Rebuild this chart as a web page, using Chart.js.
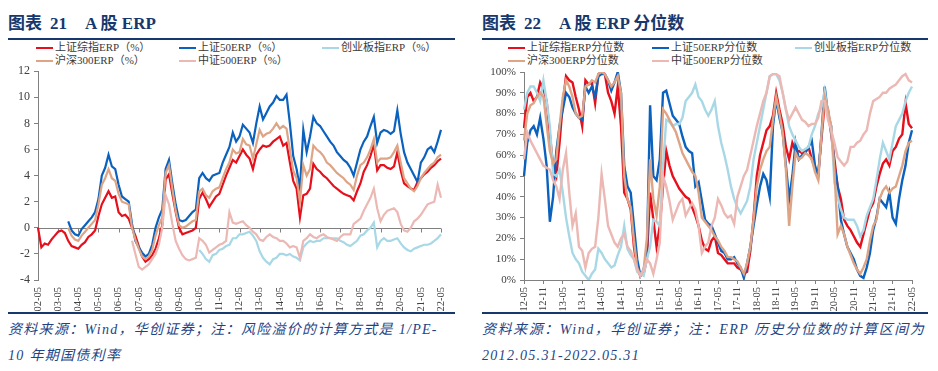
<!DOCTYPE html>
<html>
<head>
<meta charset="utf-8">
<script src="https://cdn.jsdelivr.net/npm/chart.js@4/dist/chart.umd.min.js"></script>
<style>
    body { margin: 0; width: 938px; height: 371px; background: #fff; position: relative; overflow: hidden;
           font-family: 'Liberation Serif', 'Noto Sans CJK SC', serif; }
    .title { position: absolute; top: 9px; font-size: 17px; font-weight: bold; color: #17386e; white-space: nowrap; }
    .title .gap { display: inline-block; width: 18px; }
    .title .sp { display: inline-block; width: 8px; }
    .rule { position: absolute; height: 2px; background: #17386e; }
    .item { position: absolute; white-space: nowrap; font-size: 11px; line-height: 13px; color: #3a3a3a; }
    .item i { display: inline-block; width: 17px; height: 2px; vertical-align: middle; margin-right: 2px; }
    .note { position: absolute; font-style: italic; font-size: 14px; line-height: 18px; color: #1e4486;
            white-space: nowrap; letter-spacing: 1.3px; }
    canvas { position: absolute; }
</style>
</head>
<body>
<div class="title" style="left:8px">图表<span class="sp"></span>21<span class="gap"></span>A 股 ERP</div>
<div class="title" style="left:482px">图表<span class="sp"></span>22<span class="gap"></span>A 股 ERP 分位数</div>
<div class="rule" style="left:8px;top:38px;width:447px"></div>
<div class="rule" style="left:482px;top:38px;width:446px"></div>
<div id="legend1"></div>
<div id="legend2"></div>
<canvas id="erpChart" width="470" height="256" style="left:0;top:60px"></canvas>
<canvas id="pctChart" width="468" height="256" style="left:470px;top:60px"></canvas>
<div class="rule" style="left:8px;top:312px;width:447px"></div>
<div class="rule" style="left:482px;top:312px;width:446px"></div>
<div class="note" style="left:8px;top:321px">资料来源：Wind，华创证券；注：风险溢价的计算方式是 1/PE-</div>
<div class="note" style="left:8px;top:347px">10 年期国债利率</div>
<div class="note" style="left:482px;top:321px;letter-spacing:1.55px">资料来源：Wind，华创证券；注：ERP 历史分位数的计算区间为</div>
<div class="note" style="left:482px;top:347px">2012.05.31-2022.05.31</div>

<script>
// ---- chart 21: ERP levels, every two months from 02-05 to 22-05 ----
const erpTicks = ['02-05', '03-05', '04-05', '05-05', '06-05', '07-05', '08-05', '09-05', '10-05', '11-05',
    '12-05', '13-05', '14-05', '15-05', '16-05', '17-05', '18-05', '19-05', '20-05', '21-05', '22-05'];

const erpSzzs = [
    0, -1.5, -1.2, -1.3, -0.9, -0.6,   -0.3, -0.2, -0.4, -1.0, -1.4, -1.5,
    -1.6, -1.3, -1.1, -0.7, -0.5, -0.2,   0.9, 1.8, 2.3, 2.8, 2.3, 2.4,
    1.2, 0.9, 1.0, 0.7, 0.0, -0.6,   -1.4, -2.2, -2.6, -2.4, -2.1, -1.6,
    -0.8, 0.2, 3.7, 4.1, 2.6, 1.2,   0.0, -0.5, -0.4, -0.3, -0.2, 0.0,
    2.2, 2.7, 2.2, 1.6, 2.0, 2.4,   2.6, 3.3, 4.0, 4.6, 5.2, 5.0,
    5.5, 6.0, 5.6, 5.3, 4.5, 5.6,   6.0, 6.3, 6.2, 6.3, 6.6, 6.8,
    7.0, 6.3, 6.5, 5.0, 3.6, 3.0,   0.8, 2.5, 2.6, 3.0, 4.9, 4.5,
    4.3, 4.0, 3.8, 3.5, 3.2, 3.0,   2.8, 2.6, 2.5, 2.4, 2.1, 2.8,
    3.4, 4.3, 4.8, 5.5, 6.4, 4.4,   4.8, 4.8, 4.6, 4.5, 4.7, 5.8,
    4.4, 3.4, 3.2, 3.0, 2.9, 3.5,   3.8, 4.1, 4.3, 4.6, 4.8, 5.1,
    5.3
];
const erpSz50 = [
    null, null, null, null, null, null,   null, null, null, 0.5, -0.2, -0.5,
    -0.6, -0.1, 0.2, 0.5, 0.8, 1.2,   2.2, 4.0, 4.6, 5.6, 4.7, 4.5,
    3.3, 2.4, 2.2, 2.0, 0.3, -1.0,   -1.5, -1.9, -2.2, -2.0, -1.3, 0.0,
    0.8, 1.4, 4.5, 5.2, 3.4, 1.8,   0.6, 0.5, 0.6, 0.9, 1.2, 1.4,
    3.8, 4.2, 3.8, 3.6, 4.0, 4.1,   4.2, 5.0, 5.6, 6.2, 7.3, 6.6,
    7.0, 7.9, 7.6, 7.3, 6.5, 8.0,   9.3, 8.3, 8.8, 9.3, 9.6, 10.1,
    9.8, 9.8, 10.2, 8.0, 5.5, 4.5,   3.0, 7.5, 5.8, 7.0, 8.5, 8.0,
    7.8, 7.4, 7.0, 6.6, 6.3, 5.8,   5.5, 5.2, 5.0, 4.6, 4.0, 5.0,
    6.0, 6.6, 7.0, 7.8, 8.5, 6.5,   7.3, 7.5, 7.4, 7.2, 7.4, 9.0,
    7.2, 5.8, 5.0, 4.5, 4.0, 3.5,   5.0, 5.4, 6.0, 6.2, 5.8, 6.6,
    7.5
];
const erpCyb = [
    null, null, null, null, null, null,   null, null, null, null, null, null,
    null, null, null, null, null, null,   null, null, null, null, null, null,
    null, null, null, null, null, null,   null, null, null, null, null, null,
    null, null, null, null, null, null,   null, null, null, null, null, null,
    -1.7, -2.0, -2.4, -2.6, -2.1, -2.0,   -1.7, -1.6, -1.4, -1.3, -0.8, -0.8,
    -0.5, -0.5, -0.4, -0.3, -0.6, -1.0,   -1.8, -2.3, -2.6, -2.8, -2.4, -2.3,
    -2.0, -2.0, -2.1, -2.0, -2.2, -2.3,   -2.5, -1.5, -1.2, -1.0, -1.1, -1.0,
    -1.0, -0.8, -0.8, -0.8, -0.8, -0.8,   -1.0, -1.1, -1.3, -1.4, -1.2, -1.0,
    -0.6, -0.5, -0.2, 0.0, 0.4, -1.5,   -1.0, -0.8, -1.0, -1.0, -0.9, -0.8,
    -1.2, -1.5, -1.7, -1.8, -1.6, -1.5,   -1.4, -1.3, -1.3, -1.2, -1.0, -0.8,
    -0.5
];
const erpHs300 = [
    null, null, null, null, null, null,   null, null, null, 0.0, -0.6, -0.9,
    -1.0, -0.6, -0.3, 0.0, 0.3, 0.6,   1.8, 3.3, 3.8, 4.5, 3.8, 3.6,
    2.6, 2.0, 1.9, 1.8, 0.0, -0.9,   -1.6, -2.2, -2.4, -2.2, -1.7, -0.6,
    0.2, 0.8, 4.2, 4.8, 3.0, 1.3,   0.2, 0.0, 0.1, 0.3, 0.5, 0.6,
    2.8, 3.0, 2.5, 2.3, 2.8, 3.0,   3.1, 3.8, 4.5, 5.0, 6.0, 5.7,
    5.8, 6.8, 6.4, 6.3, 5.3, 6.4,   7.5, 7.0, 7.2, 7.3, 7.6, 8.0,
    7.6, 7.8, 7.6, 6.0, 4.4, 3.8,   2.0, 4.8, 4.0, 4.5, 6.3, 6.0,
    5.8, 5.5, 5.0, 4.8, 4.5, 4.2,   4.0, 3.8, 3.5, 3.3, 2.9, 4.0,
    4.8, 5.0, 5.4, 6.0, 6.8, 5.0,   5.3, 5.3, 5.3, 5.4, 5.8, 6.3,
    5.0, 3.8, 3.4, 3.0, 2.8, 3.2,   3.8, 4.2, 4.5, 4.8, 5.0, 5.4,
    5.6
];
const erpZz500 = [
    null, null, null, null, null, null,   null, null, null, null, null, null,
    null, null, null, null, null, null,   null, null, null, null, null, null,
    null, null, null, null, -1.0, -2.0,   -3.0, -3.2, -3.0, -2.8, -2.4, -2.0,
    -1.3, 0.0, 2.5, 1.8, 0.3, -1.0,   -1.6, -2.1, -2.4, -2.5, -2.4, -2.3,
    -0.8, -1.0, -1.3, -1.9, -1.7, -1.5,   -1.3, -1.2, -1.0, 1.2, 0.4, 0.3,
    0.4, 0.5, 0.2, 0.0, -0.3, -0.5,   -0.9, -1.0, -0.7, -0.5, -0.7, -0.8,
    -1.0, -1.0, -1.2, -1.5, -1.4, -1.5,   -2.3, -1.0, -0.8, -0.5, -0.7, -0.8,
    -0.6, -0.5, -0.7, -0.8, -0.9, -1.0,   -0.7, -0.5, -0.5, -0.5, 0.3, 0.5,
    0.7, 1.3, 1.8, 2.3, 3.0, 1.5,   0.5, 1.0, 1.3, 1.4, 1.5, 1.2,
    0.3, -0.2, -0.3, 0.0, 0.5, 0.7,   1.0, 1.4, 1.8, 1.9, 2.0, 3.3,
    2.3
];

// ---- chart 22: ERP percentiles, monthly from 12-05 to 22-05 ----
const pctTicks = ['12-05', '12-11', '13-05', '13-11', '14-05', '14-11', '15-05', '15-11', '16-05', '16-11',
    '17-05', '17-11', '18-05', '18-11', '19-05', '19-11', '20-05', '20-11', '21-05', '21-11', '22-05'];

const pctSzzs = [
    73, 88, 90, 86, 88, 95, 92, 86, 70, 55, 50, 66,
    85, 98, 96, 95, 88, 82, 74, 96, 94, 95, 85, 99,
    100, 99, 90, 86, 80, 93, 74, 42, 39, 34, 16, 5,
    2, 3, 10, 42, 29, 16, 26, 45, 62, 55, 50, 47,
    44, 42, 40, 39, 35, 31, 26, 19, 15, 14, 19, 21,
    13, 12, 10, 8, 8, 8, 6, 5, 3, 4, 14, 30,
    50, 60, 66, 72, 74, 79, 90, 82, 75, 64, 58, 66,
    62, 62, 61, 62, 64, 58, 54, 51, 68, 85, 82, 70,
    58, 45, 39, 29, 26, 24, 21, 18, 16, 22, 28, 34,
    37, 45, 51, 56, 58, 55, 62, 64, 68, 70, 85, 75, 73
];
const pctSz50 = [
    50, 66, 72, 74, 70, 78, 68, 55, 28, 40, 62, 74,
    82, 90, 88, 83, 80, 78, 77, 93, 90, 93, 88, 98,
    99, 99, 96, 91, 95, 100, 90, 55, 45, 42, 26, 10,
    2, 5, 12, 84, 50, 48, 58, 90, 91, 85, 79, 77,
    75, 69, 64, 62, 61, 45, 47, 38, 29, 27, 26, 22,
    18, 14, 13, 10, 10, 11, 8, 6, 1, 8, 16, 26,
    36, 45, 51, 48, 40, 74, 87, 78, 71, 55, 39, 50,
    66, 58, 60, 61, 64, 67, 55, 50, 70, 93, 80, 74,
    55, 45, 29, 22, 16, 13, 10, 5, 2, 1, 6, 13,
    24, 30, 39, 37, 35, 42, 30, 27, 39, 48, 55, 66, 72
];
const pctCyb = [
    82, 90, 93, 93, 90, 86, 96, 86, 74, 51, 50, 53,
    42, 30, 21, 13, 10, 8, 4, 2, 0, 3, 5, 15,
    13, 10, 8, 6, 7, 12, 16, 26, 15, 12, 10, 4,
    3, 2, 10, 16, 29, 28, 26, 55, 77, 76, 74, 75,
    75, 78, 86, 88, 90, 94, 88, 86, 82, 79, 82, 86,
    74, 66, 60, 53, 45, 39, 35, 32, 35, 38, 45, 58,
    66, 74, 82, 90, 98, 99, 99, 96, 90, 82, 74, 70,
    67, 64, 62, 63, 64, 70, 74, 80, 83, 91, 80, 74,
    47, 40, 34, 30, 29, 29, 29, 26, 21, 24, 31, 35,
    39, 48, 58, 66, 62, 58, 66, 74, 77, 80, 86, 90, 93
];
const pctHs300 = [
    67, 80, 84, 85, 88, 90, 88, 75, 62, 56, 58, 74,
    88, 96, 93, 88, 80, 78, 79, 93, 94, 96, 95, 99,
    100, 99, 96, 93, 95, 98, 90, 50, 39, 35, 19, 6,
    2, 5, 20, 58, 39, 31, 45, 82, 80, 77, 74, 71,
    66, 61, 58, 55, 52, 50, 42, 30, 28, 26, 24, 21,
    19, 16, 14, 11, 11, 10, 9, 6, 3, 8, 16, 29,
    45, 53, 58, 62, 64, 77, 88, 80, 71, 53, 26, 45,
    61, 58, 59, 61, 60, 58, 52, 48, 70, 88, 82, 74,
    53, 22, 26, 22, 16, 12, 8, 5, 3, 6, 10, 19,
    26, 29, 39, 43, 45, 42, 44, 45, 50, 55, 62, 66, 67
];
const pctZz500 = [
    58, 71, 67, 64, 61, 58, 55, 54, 53, 48, 45, 39,
    53, 61, 42, 26, 32, 16, 14, 6, 13, 15, 16, 30,
    51, 39, 26, 22, 18, 16, 20, 22, 16, 14, 10, 5,
    2, 5, 10, 8, 3, 10, 18, 50, 45, 38, 29, 33,
    37, 39, 31, 34, 37, 34, 26, 13, 16, 18, 26, 30,
    39, 36, 32, 30, 31, 27, 40, 45, 50, 53, 60, 67,
    74, 80, 86, 90, 98, 99, 99, 98, 90, 82, 77, 80,
    83, 80, 77, 76, 74, 75, 75, 78, 86, 86, 77, 72,
    66, 59, 57, 55, 57, 64, 64, 66, 67, 70, 72, 80,
    86, 87, 88, 90, 90, 92, 93, 94, 96, 98, 99, 96, 95
];

const seriesColors = ['#e60f1b', '#0a62be', '#a8d8e6', '#dea486', '#ebb8b4'];
const erpNames = ['上证综指ERP（%）', '上证50ERP（%）', '创业板指ERP（%）', '沪深300ERP（%）', '中证500ERP（%）'];
const pctNames = ['上证综指ERP分位数', '上证50ERP分位数', '创业板指ERP分位数', '沪深300ERP分位数', '中证500ERP分位数'];

// category labels "YY-MM" stepping through months
function monthLabels(year, month, count, step) {
    const out = [];
    for (let k = 0; k < count; k++) {
        const m = month - 1 + k * step;
        out.push(String(year + Math.floor(m / 12)).slice(2) + '-' + String(m % 12 + 1).padStart(2, '0'));
    }
    return out;
}

function drawLegend(id, names, left, cols) {
    const box = document.getElementById(id);
    const rows = [47.5, 60.5];
    names.forEach((name, i) => {
        const el = document.createElement('div');
        el.className = 'item';
        el.style.left = (left + cols[i % 3]) + 'px';
        el.style.top = (rows[Math.floor(i / 3)] - 6.5) + 'px';
        el.innerHTML = '<i style="background:' + seriesColors[i] + '"></i>' + name;
        box.appendChild(el);
    });
}
drawLegend('legend1', erpNames, 36, [0, 143, 286]);
drawLegend('legend2', pctNames, 508, [0, 144, 287]);

Chart.defaults.font.family = "'Liberation Serif', 'Times New Roman', serif";
Chart.defaults.color = '#404040';

function makeDatasets(names, values, width) {
    return names.map((name, i) => ({
        label: name,
        data: values[i],
        borderColor: seriesColors[i],
        backgroundColor: seriesColors[i],
        borderWidth: width,
        pointRadius: 0,
        tension: 0,
        spanGaps: false,
        order: 5 - i
    }));
}

function keepTicks(list) {
    return scale => {
        const labels = scale.getLabels();
        scale.ticks = scale.ticks.filter(t => list.includes(labels[t.value]));
    };
}

// horizontal axis of chart 21 crosses at zero, with small ticks
const zeroAxis = {
    id: 'zeroAxis',
    beforeDatasetsDraw(chart) {
        const { ctx, chartArea, scales: { x, y } } = chart;
        const y0 = Math.round(y.getPixelForValue(0)) + 0.5;
        ctx.save();
        ctx.strokeStyle = '#808080';
        ctx.lineWidth = 1;
        ctx.beginPath();
        ctx.moveTo(chartArea.left, y0);
        ctx.lineTo(chartArea.right, y0);
        x.ticks.forEach((t, i) => {
            const px = Math.round(x.getPixelForTick(i)) + 0.5;
            ctx.moveTo(px, y0);
            ctx.lineTo(px, y0 + 4);
        });
        ctx.stroke();
        ctx.restore();
    }
};

new Chart(document.getElementById('erpChart'), {
    type: 'line',
    data: {
        labels: monthLabels(2002, 5, 121, 2),
        datasets: makeDatasets(erpNames, [erpSzzs, erpSz50, erpCyb, erpHs300, erpZz500], 2.2)
    },
    options: {
        responsive: false,
        animation: false,
        layout: { padding: { left: 0, top: 8, right: 29, bottom: 0 } },
        plugins: { legend: { display: false }, tooltip: { enabled: false } },
        scales: {
            x: {
                afterBuildTicks: keepTicks(erpTicks),
                afterFit: s => { s.height = 36; },
                grid: { display: false, drawTicks: false },
                border: { display: false },
                ticks: { autoSkip: false, maxRotation: 90, minRotation: 90, padding: 7, font: { size: 10.5 } }
            },
            y: {
                min: -4,
                max: 12,
                afterFit: s => { s.width = 38; },
                grid: { drawOnChartArea: false, tickLength: 4, color: '#808080' },
                border: { color: '#808080' },
                ticks: { stepSize: 2, padding: 4, font: { size: 12 } }
            }
        }
    },
    plugins: [zeroAxis]
});

new Chart(document.getElementById('pctChart'), {
    type: 'line',
    data: {
        labels: monthLabels(2012, 5, 121, 1),
        datasets: makeDatasets(pctNames, [pctSzzs, pctSz50, pctCyb, pctHs300, pctZz500], 2.4)
    },
    options: {
        responsive: false,
        animation: false,
        layout: { padding: { left: 0, top: 12, right: 26, bottom: 0 } },
        plugins: { legend: { display: false }, tooltip: { enabled: false } },
        scales: {
            x: {
                afterBuildTicks: keepTicks(pctTicks),
                afterFit: s => { s.height = 36; },
                grid: { drawOnChartArea: false, tickLength: 4, color: '#808080' },
                border: { color: '#808080' },
                ticks: { autoSkip: false, maxRotation: 90, minRotation: 90, padding: 3, font: { size: 10.5 } }
            },
            y: {
                min: 0,
                max: 100,
                afterFit: s => { s.width = 54; },
                grid: { drawOnChartArea: false, tickLength: 4, color: '#808080' },
                border: { color: '#808080' },
                ticks: { stepSize: 10, padding: 4, font: { size: 11 }, callback: v => v + '%' }
            }
        }
    }
});
</script>
</body>
</html>
